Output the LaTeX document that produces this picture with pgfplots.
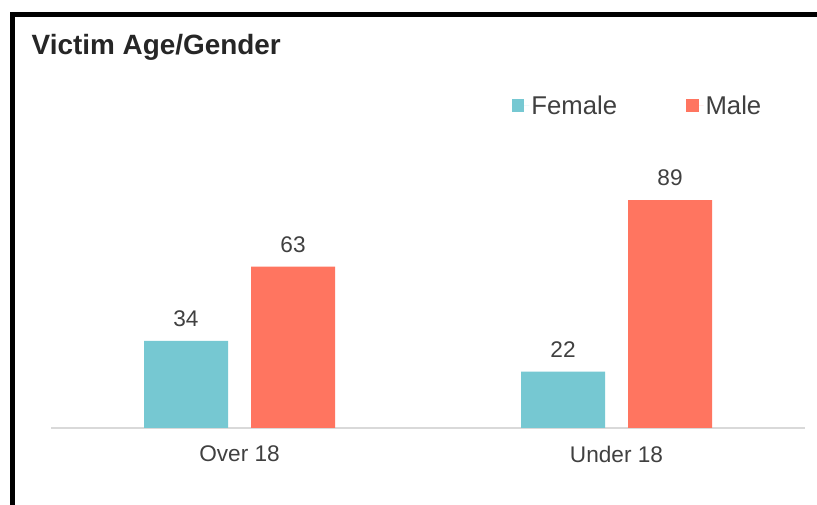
\documentclass[border=0pt]{standalone}
\usepackage{pgfplots}
\pgfplotsset{compat=1.18}
\usepackage{fontspec}
\setmainfont{Liberation Sans}
\definecolor{fem}{HTML}{76C8D2}
\definecolor{mal}{HTML}{FF7560}
\definecolor{txt}{HTML}{404040}
\definecolor{ttl}{HTML}{262626}
\definecolor{axl}{HTML}{D9D9D9}

\begin{document}
\begin{tikzpicture}
\path[use as bounding box] (0bp,0bp) rectangle (817bp,505bp);
\fill[white] (0bp,0bp) rectangle (817bp,505bp);
% frame (cut off at right and bottom)
\draw[line width=4.5bp] (12.5bp,0bp) -- (12.5bp,490.5bp) -- (817bp,490.5bp);
\node[anchor=base west, inner sep=0, text=ttl,
      font=\bfseries\fontsize{28}{33}\selectfont] at (31.5bp,450bp) {Victim Age/Gender};
\begin{axis}[
    at={(51bp,77bp)}, anchor=south west,
    scale only axis, width=754bp, height=256bp,
    xmin=-0.5, xmax=1.5, ymin=0, ymax=100,
    ybar, bar width=84bp,
    axis x line=bottom, axis y line=none,
    x axis line style={draw=axl, line width=1.5bp, -},
    xtick={0,1}, xticklabels={Over 18, Under 18},
    major tick length=0,
    xticklabel style={anchor=north, inner sep=0, yshift=-18bp,
        text=txt, font=\fontsize{22.7}{27}\selectfont},
    ytick=\empty,
    /pgf/number format/assume math mode=true,
    nodes near coords,
    nodes near coords style={anchor=south, inner sep=0, yshift=14bp,
        text=txt, font=\fontsize{22.7}{27}\selectfont},
    legend columns=2,
    legend style={at={(0.611,1.258)}, anchor=west, draw=none, fill=none,
        inner sep=0, text=txt, font=\fontsize{25.8}{30}\selectfont,
        /tikz/every even column/.append style={column sep=67bp}},
    legend image code/.code={\fill[#1] (0bp,-6.5bp) rectangle (12.5bp,6.5bp);
        \path (0bp,0bp) -- (17.5bp,0bp);},
]
\addplot[fill=fem, draw=none, bar shift=-53.5bp] coordinates {(0,34) (1,22)};
\addplot[fill=mal, draw=none, bar shift=53.5bp] coordinates {(0,63) (1,89)};
\legend{Female, Male}
\end{axis}
\end{tikzpicture}
\end{document}
